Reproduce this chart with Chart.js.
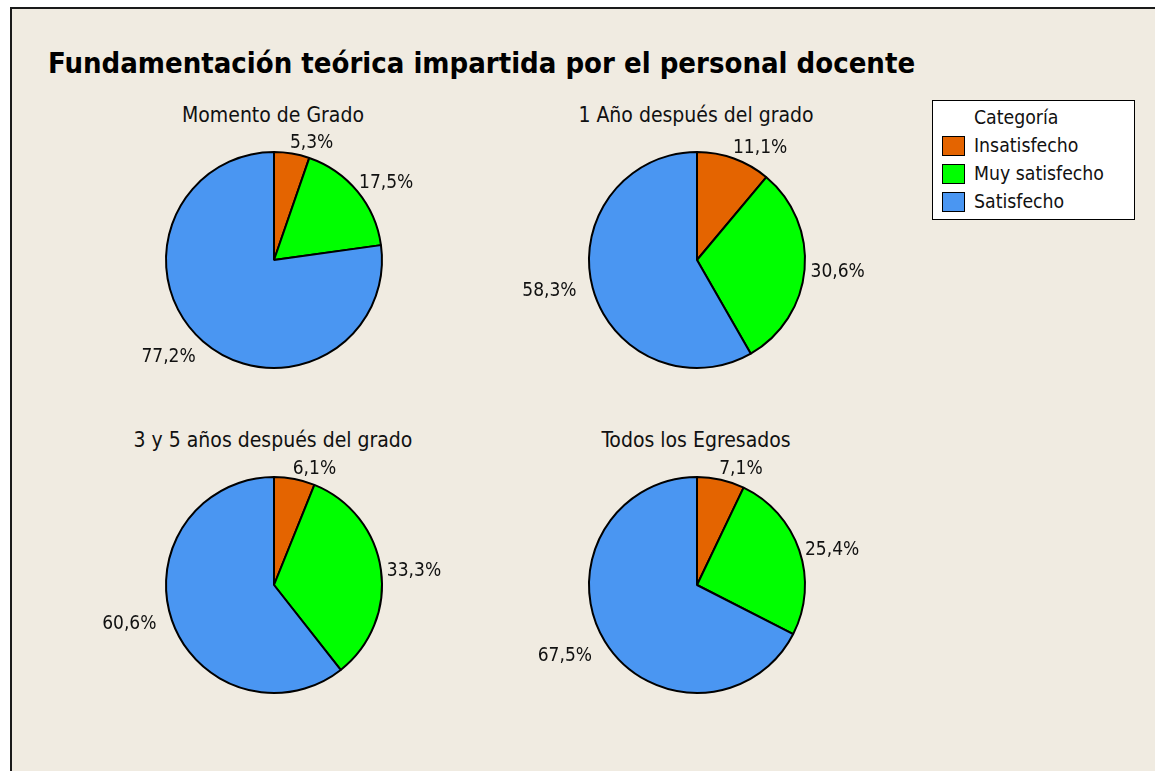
<!DOCTYPE html>
<html lang="es">
<head>
<meta charset="utf-8">
<title>Fundamentación teórica impartida por el personal docente</title>
<script src="https://cdn.jsdelivr.net/npm/chart.js@4.4.1/dist/chart.umd.min.js"></script>
<style>
  html, body { margin: 0; padding: 0; background: #fff; }
  body { width: 1155px; height: 771px; overflow: hidden; position: relative;
         font-family: "DejaVu Sans Condensed", "DejaVu Sans", sans-serif; font-stretch: semi-condensed; color: #111; }
  #marco { position: absolute; left: 10px; top: 7px; width: 1160px; height: 790px;
           border: 2px solid #1a1a1a; background: #f0ebe1; box-sizing: border-box; }
  #titulo { position: absolute; left: 48px; top: 49px; font-size: 29px; line-height: 29px;
            font-weight: bold; white-space: nowrap; color: #000; }
  .subtitulo { position: absolute; width: 400px; text-align: center; font-size: 21px;
               line-height: 21px; white-space: nowrap; }
  canvas.pie { position: absolute; }
  #leyenda { position: absolute; left: 932px; top: 100px; width: 203px; height: 120px;
             border: 1.5px solid #000; background: #fff; box-sizing: border-box; }
  #leyenda .txt { position: absolute; left: 41px; font-size: 19.3px; line-height: 19px; white-space: nowrap; }
  #leyenda .cuadro { position: absolute; left: 9px; width: 23px; height: 20px;
                     border: 1.5px solid #000; box-sizing: border-box; }
</style>
</head>
<body>
<div id="marco"></div>
<div id="titulo">Fundamentación teórica impartida por el personal docente</div>
<div id="paneles"></div>
<div id="leyenda"></div>

<script>
// Datos (porcentajes por categoría)
const categorias = ['Insatisfecho', 'Muy satisfecho', 'Satisfecho'];
const titulosPaneles = ['Momento de Grado', '1 Año después del grado', '3 y 5 años después del grado', 'Todos los Egresados'];
const momentoGrado = [5.3, 17.5, 77.2];
const unAnio = [11.1, 30.6, 58.3];
const tresCincoAnios = [6.1, 33.3, 60.6];
const todosEgresados = [7.1, 25.4, 67.5];
const tituloLeyenda = 'Categoría';

const colores = ['#e46400', '#00ff00', '#4a96f2'];
const FUENTE = '"DejaVu Sans Condensed", "DejaVu Sans", sans-serif';

// centros de cada pastel en la página
const centros = [[274, 260], [697, 260], [274, 585], [697, 585]];
const CW = 380, CH = 300;

function formatear(v) {
  return v.toFixed(1).replace('.', ',') + '%';
}

// etiquetas de porcentaje fuera de cada porción
const etiquetasPorcentaje = {
  id: 'etiquetasPorcentaje',
  afterDatasetsDraw(chart) {
    const ctx = chart.ctx;
    const meta = chart.getDatasetMeta(0);
    const valores = chart.data.datasets[0].data;
    ctx.save();
    ctx.font = '19px ' + FUENTE;
    if ('fontStretch' in ctx) ctx.fontStretch = 'semi-condensed';
    ctx.fillStyle = '#111';
    ctx.textBaseline = 'middle';
    meta.data.forEach((arc, i) => {
      const p = arc.getProps(['x', 'y', 'startAngle', 'endAngle', 'outerRadius'], true);
      const medio = (p.startAngle + p.endAngle) / 2;
      const r = p.outerRadius + 6;
      const cx = Math.cos(medio), sy = Math.sin(medio);
      let x = p.x + cx * r;
      let y = p.y + sy * r + 2;
      // arriba: se apoya por abajo; abajo: cuelga por arriba; lados: centrada
      if (sy < -0.42) y -= 6.5;
      else if (sy > 0.42) y += 9;
      if (cx >= 0) {
        ctx.textAlign = 'left';
        if (sy < -0.42) x -= 3;
      } else {
        ctx.textAlign = 'right';
        x -= Math.max(0, 22 * Math.abs(cx) - 11);
      }
      ctx.fillText(formatear(valores[i]), x, y);
    });
    ctx.restore();
  }
};

function crearPastel(indice, valores) {
  const [px, py] = centros[indice];
  const cont = document.getElementById('paneles');

  const sub = document.createElement('div');
  sub.className = 'subtitulo';
  sub.textContent = titulosPaneles[indice];
  sub.style.left = (px - 201) + 'px';
  sub.style.top = (py - 155) + 'px';
  cont.appendChild(sub);

  const canvas = document.createElement('canvas');
  canvas.className = 'pie';
  canvas.width = CW;
  canvas.height = CH;
  canvas.style.left = (px - CW / 2) + 'px';
  canvas.style.top = (py - CH / 2) + 'px';
  cont.appendChild(canvas);

  return new Chart(canvas.getContext('2d'), {
    type: 'pie',
    data: {
      labels: categorias,
      datasets: [{
        data: valores,
        backgroundColor: colores,
        borderColor: '#000',
        borderWidth: 2
      }]
    },
    options: {
      responsive: false,
      animation: false,
      devicePixelRatio: 1,
      radius: 108,
      layout: { padding: 0 },
      plugins: {
        legend: { display: false },
        tooltip: { enabled: false }
      }
    },
    plugins: [etiquetasPorcentaje]
  });
}

crearPastel(0, momentoGrado);
crearPastel(1, unAnio);
crearPastel(2, tresCincoAnios);
crearPastel(3, todosEgresados);

// Leyenda
const leyenda = document.getElementById('leyenda');
const cab = document.createElement('div');
cab.className = 'txt';
cab.textContent = tituloLeyenda;
cab.style.top = '7px';
leyenda.appendChild(cab);
categorias.forEach((c, i) => {
  const cuadro = document.createElement('div');
  cuadro.className = 'cuadro';
  cuadro.style.background = colores[i];
  cuadro.style.top = (35 + i * 28) + 'px';
  leyenda.appendChild(cuadro);
  const t = document.createElement('div');
  t.className = 'txt';
  t.textContent = c;
  t.style.top = (35 + i * 28) + 'px';
  leyenda.appendChild(t);
});
</script>
</body>
</html>
